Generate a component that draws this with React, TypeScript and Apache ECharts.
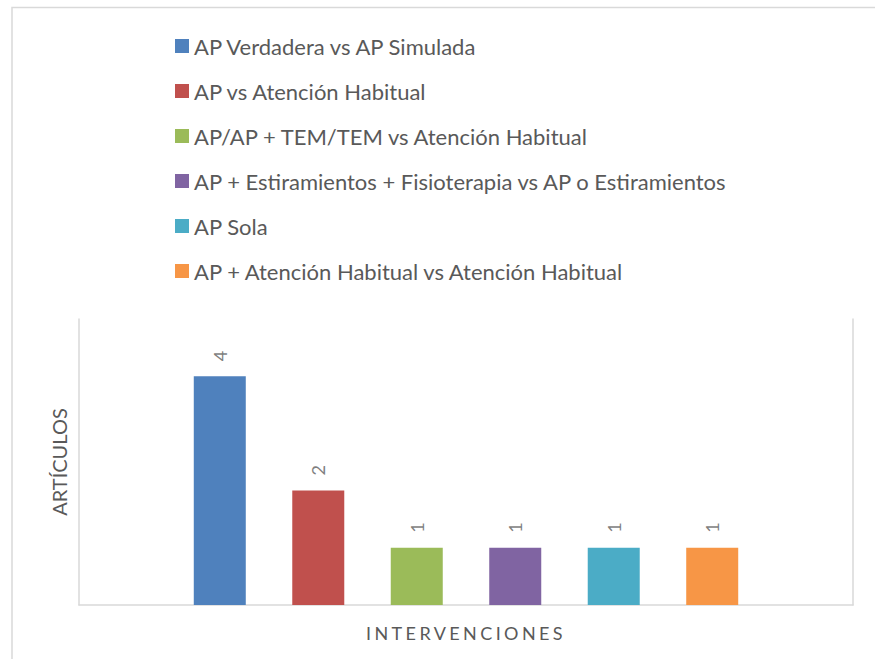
import React, { useEffect, useRef } from "react";
import * as echarts from "echarts";

const seriesNames = [
  "AP Verdadera vs AP Simulada",
  "AP vs Atención Habitual",
  "AP/AP + TEM/TEM vs Atención Habitual",
  "AP + Estiramientos + Fisioterapia vs AP o Estiramientos",
  "AP Sola",
  "AP + Atención Habitual vs Atención Habitual",
];
const seriesValues = [4, 2, 1, 1, 1, 1];
const seriesColors = ["#4F81BD", "#C0504D", "#9BBB59", "#8064A2", "#4BACC6", "#F79646"];
const categories = [""];
const xAxisTitle = "INTERVENCIONES";
const yAxisTitle = "ARTÍCULOS";

const FONT = "Lato, 'Open Sans', sans-serif";
const LINE = "#d9d9d9";

export default function App() {
  const ref = useRef<HTMLDivElement>(null);

  useEffect(() => {
    if (!ref.current) return;
    const chart = echarts.init(ref.current, null, { renderer: "svg" });
    const option: any = {
      animation: false,
      backgroundColor: "#ffffff",
      textStyle: { fontFamily: FONT },
      graphic: [
        {
          type: "rect",
          shape: { x: 12, y: 7.5, width: 1000, height: 1000 },
          style: { fill: "none", stroke: LINE, lineWidth: 1.5 },
          silent: true,
          z: -10,
        },
      ],
      legend: {
        orient: "vertical",
        left: 175,
        top: 35,
        padding: 0,
        itemWidth: 14,
        itemHeight: 14,
        itemGap: 23,
        icon: "rect",
        data: seriesNames,
        textStyle: { fontFamily: FONT, fontSize: 22, lineHeight: 22, color: "#595959" },
      },
      grid: { left: 79, right: 22, top: 319, bottom: 54 },
      xAxis: {
        type: "category",
        data: categories,
        name: xAxisTitle,
        nameLocation: "middle",
        nameGap: 19,
        nameTextStyle: { fontFamily: FONT, fontSize: 18, color: "#595959" },
        axisLine: { show: true, lineStyle: { color: LINE, width: 1.5 } },
        axisTick: { show: false },
        axisLabel: { show: false },
        splitLine: { show: false },
      },
      yAxis: [
        {
          type: "value",
          min: 0,
          max: 5,
          interval: 1,
          name: yAxisTitle,
          nameLocation: "middle",
          nameRotate: 90,
          nameGap: 10,
          nameTextStyle: { fontFamily: FONT, fontSize: 20, color: "#595959" },
          axisLine: { show: true, lineStyle: { color: LINE, width: 1.5 } },
          axisTick: { show: false },
          axisLabel: { show: false },
          splitLine: { show: false },
        },
        {
          type: "value",
          position: "right",
          min: 0,
          max: 5,
          interval: 1,
          axisLine: { show: true, lineStyle: { color: LINE, width: 1.5 } },
          axisTick: { show: false },
          axisLabel: { show: false },
          splitLine: { show: false },
        },
      ],
      series: seriesNames.map((name, i) => ({
        type: "bar",
        name,
        data: [seriesValues[i]],
        barWidth: 52,
        barGap: "89.4%",
        itemStyle: { color: seriesColors[i] },
        label: {
          show: true,
          position: "top",
          distance: 15,
          rotate: 90,
          align: "left",
          verticalAlign: "middle",
          fontFamily: FONT,
          fontSize: 18,
          color: "#7f7f7f",
        },
      })),
    };
    chart.setOption(option);
    const applySpacing = () => {
      if (!ref.current) return;
      ref.current.querySelectorAll("text").forEach((t) => {
        if (t.textContent === xAxisTitle) t.setAttribute("letter-spacing", "3.4");
      });
    };
    applySpacing();
    chart.on("finished", applySpacing);
    return () => chart.dispose();
  }, []);

  return (
    <div
      ref={ref}
      style={{ position: "absolute", left: 0, top: 0, width: 875, height: 659 }}
    />
  );
}
